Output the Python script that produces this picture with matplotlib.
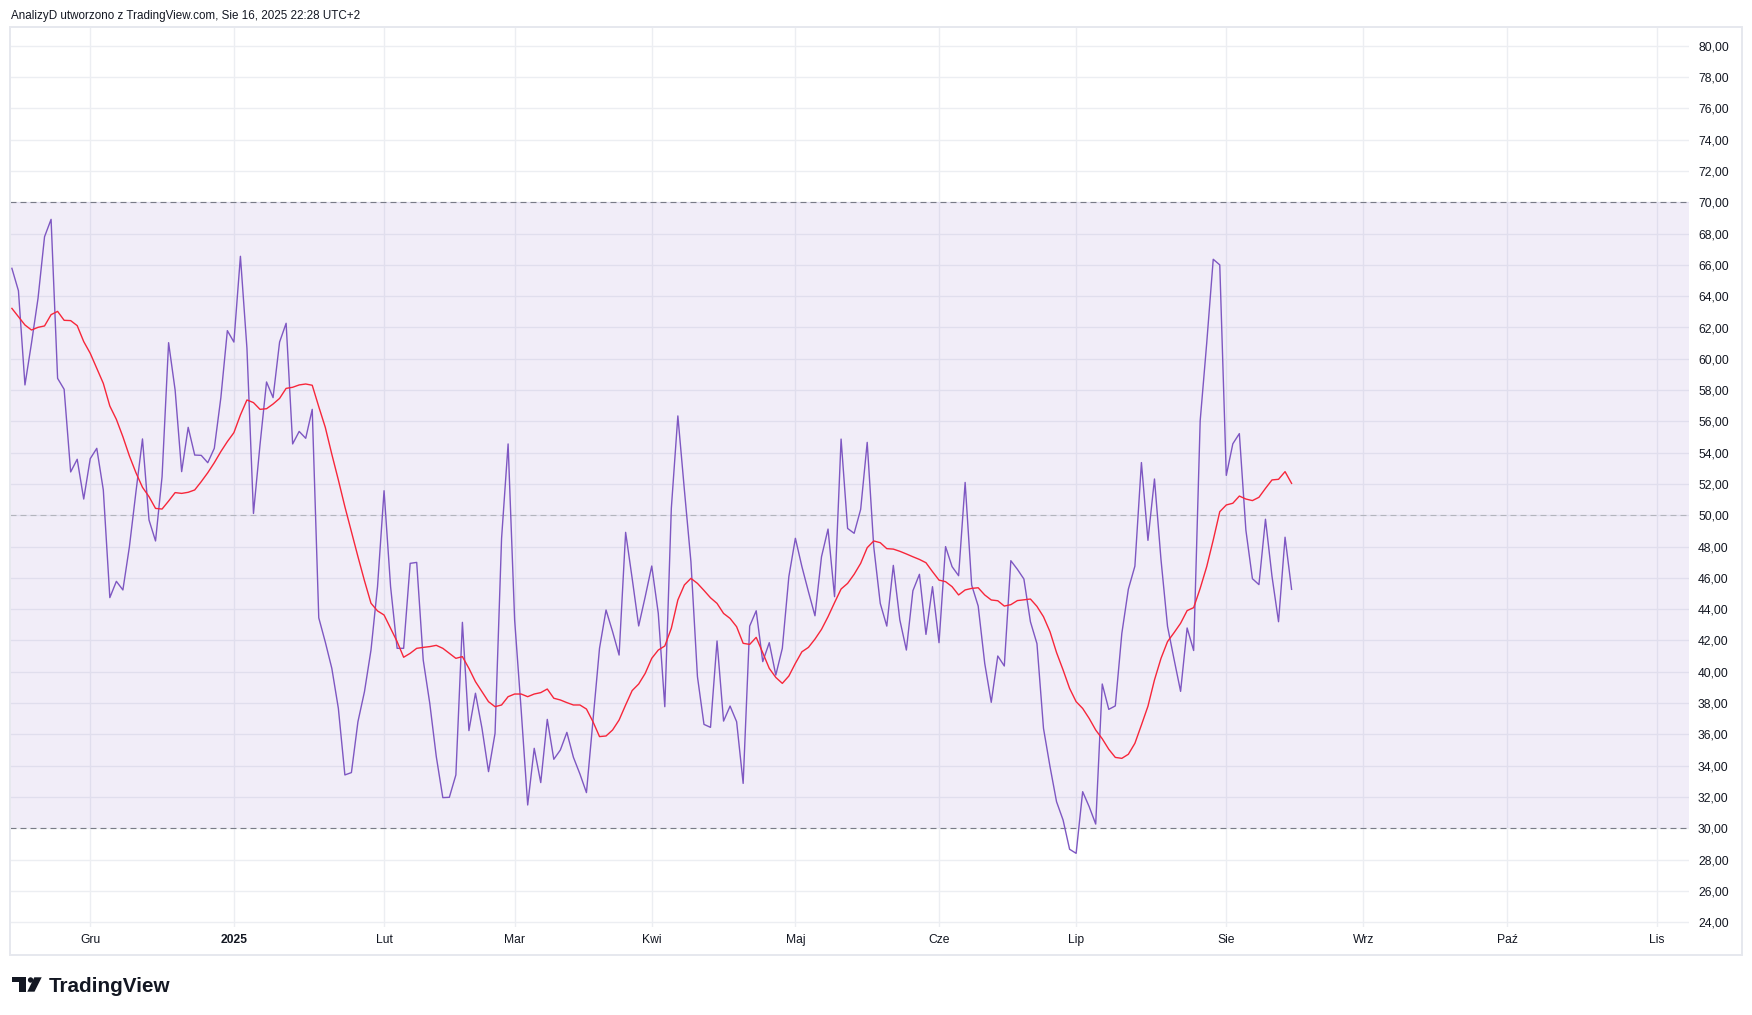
import matplotlib
matplotlib.use('Agg')
import matplotlib.pyplot as plt
import numpy as np
import pandas as pd
from matplotlib.patches import Rectangle, Circle, Polygon

plt.rcParams['lines.scale_dashes'] = False
plt.rcParams['font.family'] = ['Liberation Sans', 'DejaVu Sans']

# ---------------- data ----------------
start_date = '2024-11-14'   # first daily bar (weekdays)

rsi = [65.78, 64.35, 58.33, 61.0, 63.86, 67.80, 68.91, 58.75, 58.05, 52.77,
       53.58, 51.04, 53.62, 54.28, 51.62, 44.74, 45.78, 45.23, 48.0, 51.5,
       54.88, 49.7, 48.36, 52.47, 61.03, 58.0, 52.79, 55.62, 53.85, 53.83,
       53.36, 54.28, 57.5, 61.8, 61.07, 66.55, 60.67, 50.12, 54.5, 58.52,
       57.52, 61.07, 62.27, 54.56, 55.36, 54.92, 56.77, 43.45, 41.9, 40.22,
       37.67, 33.41, 33.56, 36.81, 38.73, 41.39, 45.44, 51.57, 45.44, 41.5,
       41.5, 46.93, 46.99, 40.75, 37.99, 34.58, 31.96, 31.98, 33.41, 43.16,
       36.24, 38.63, 36.39, 33.62, 36.07, 48.53, 54.56, 43.31, 37.56, 31.49,
       35.11, 32.92, 36.96, 34.41, 35.0, 36.13, 34.54, 33.47, 32.28, 36.9,
       41.5, 43.95, 42.57, 41.07, 48.91, 45.97, 42.93, 44.80, 46.76, 43.74,
       37.77, 50.45, 56.35, 51.62, 47.04, 39.69, 36.64, 36.45, 41.97, 36.85,
       37.81, 36.81, 32.87, 42.92, 43.90, 40.65, 41.86, 39.79, 41.50, 46.08,
       48.53, 46.72, 45.12, 43.58, 47.35, 49.12, 44.80, 54.87, 49.16, 48.85,
       50.38, 54.66, 48.0, 44.37, 42.92, 46.80, 43.31, 41.39, 45.18, 46.23,
       42.39, 45.44, 41.86, 48.0, 46.72, 46.14, 52.10, 45.54, 44.20, 40.54,
       38.05, 41.01, 40.37, 47.10, 46.55, 45.93, 43.2, 41.8, 36.39, 33.94,
       31.70, 30.53, 28.66, 28.4, 32.34, 31.38, 30.27, 39.22, 37.60, 37.82,
       42.45, 45.28, 46.75, 53.37, 48.4, 52.32, 47.16, 42.9, 40.8, 38.75,
       42.8, 41.36, 56.04, 61.0, 66.36, 66.0, 52.55, 54.57, 55.22, 49.05,
       45.95, 45.57, 49.75, 46.1, 43.2, 48.6, 45.27]

rsi_ma = [63.22, 62.69, 62.16, 61.84, 62.01, 62.10, 62.82, 63.03, 62.46, 62.44,
          62.12, 61.10, 60.35, 59.39, 58.43, 56.98, 56.13, 55.02, 53.79, 52.72,
          51.79, 51.19, 50.44, 50.40, 50.91, 51.45, 51.40, 51.47, 51.62, 52.15,
          52.72, 53.36, 54.07, 54.71, 55.28, 56.41, 57.37, 57.20, 56.77, 56.81,
          57.11, 57.47, 58.11, 58.18, 58.33, 58.39, 58.31, 56.94, 55.62, 53.9,
          52.26, 50.55, 48.96, 47.36, 45.82, 44.38, 43.89, 43.63, 42.78, 41.93,
          40.93, 41.18, 41.5, 41.56, 41.61, 41.69, 41.5, 41.18, 40.86, 40.97,
          40.22, 39.37, 38.73, 38.09, 37.77, 37.88, 38.41, 38.58, 38.58, 38.41,
          38.58, 38.67, 38.90, 38.31, 38.2, 38.03, 37.88, 37.88, 37.62, 36.81,
          35.86, 35.9, 36.28, 36.92, 37.88, 38.80, 39.22, 39.9, 40.86, 41.39,
          41.65, 42.78, 44.59, 45.55, 45.97, 45.65, 45.2, 44.73, 44.37, 43.73,
          43.41, 42.88, 41.82, 41.75, 42.20, 41.22, 40.22, 39.64, 39.26, 39.73,
          40.54, 41.28, 41.56, 42.09, 42.71, 43.52, 44.42, 45.29, 45.65, 46.23,
          46.93, 47.93, 48.36, 48.25, 47.87, 47.84, 47.70, 47.53, 47.35, 47.18,
          46.97, 46.40, 45.86, 45.76, 45.44, 44.91, 45.23, 45.33, 45.37, 44.91,
          44.59, 44.54, 44.20, 44.29, 44.55, 44.60, 44.65, 44.18, 43.52, 42.56,
          41.23, 40.12, 38.94, 38.09, 37.66, 37.02, 36.28, 35.72, 35.05, 34.53,
          34.47, 34.73, 35.43, 36.6, 37.8, 39.48, 40.86, 41.93, 42.50, 43.10,
          43.91, 44.10, 45.33, 46.72, 48.42, 50.23, 50.66, 50.77, 51.23, 51.04,
          50.94, 51.15, 51.72, 52.26, 52.30, 52.79, 52.04]

month_starts = ['2024-12-01', '2025-01-01', '2025-02-01', '2025-03-01',
                '2025-04-01', '2025-05-01', '2025-06-01', '2025-07-01',
                '2025-08-01', '2025-09-01', '2025-10-01', '2025-11-01']
month_labels = ['Gru', '2025', 'Lut', 'Mar', 'Kwi', 'Maj', 'Cze', 'Lip',
                'Sie', 'Wrz', 'Paź', 'Lis']
y_ticks = list(range(24, 81, 2))
band_upper, band_middle, band_lower = 70, 50, 30
header = 'AnalizyD utworzono z TradingView.com, Sie 16, 2025 22:28 UTC+2'

# ---------------- layout ----------------
W, H, DPI = 1752, 1015, 100
calendar = pd.bdate_range(start_date, '2025-11-30')
x = np.arange(len(rsi))
tick_idx = [int(calendar.searchsorted(pd.Timestamp(m))) for m in month_starts]

fig = plt.figure(figsize=(W / DPI, H / DPI), dpi=DPI)
fig.patch.set_facecolor('white')


def px_box(l, t, r, b):
    return [l / W, 1 - b / H, (r - l) / W, (b - t) / H]


PL, PT, PR, PB = 10, 27.3, 1689, 927
ax = fig.add_axes(px_box(PL, PT, PR, PB))
X0, DX = 11.9, 6.529
Y70, PPU = 202.3, 15.65
ax.set_xlim((PL - X0) / DX, (PR - X0) / DX)
ax.set_ylim(70 - (PB - Y70) / PPU, 70 + (Y70 - PT) / PPU)
ax.set_facecolor('white')
for s in ax.spines.values():
    s.set_visible(False)

# grid
ax.set_yticks(y_ticks)
ax.set_yticklabels([f'{v:.2f}'.replace('.', ',') for v in y_ticks])
ax.set_xticks(tick_idx)
ax.set_xticklabels(month_labels)
ax.grid(True, color='#eceef2', linewidth=1.0, zorder=0)
ax.set_axisbelow(True)
ax.yaxis.tick_right()
ax.tick_params(axis='y', length=0, pad=6.5, labelsize=8.7, labelcolor='#131722')
ax.tick_params(axis='x', length=0, pad=5.0, labelsize=8.7, labelcolor='#131722')
for lbl in ax.get_xticklabels():
    if lbl.get_text() == '2025':
        lbl.set_fontweight('bold')

# band
ax.axhspan(band_lower, band_upper, color='#7e57c2', alpha=0.1, lw=0, zorder=1)
for lvl, col in ((band_upper, '#787b86'), (band_lower, '#787b86'), (band_middle, '#b3b5bd')):
    ax.axhline(lvl, color=col, lw=0.8, dashes=(4.3, 2.9), zorder=2)

ax.plot(x, rsi, color='#7e57c2', lw=1.0, zorder=3)
ax.plot(x, rsi_ma, color='#f7263a', lw=1.0, zorder=4)

# overlay in pixel coordinates
ov = fig.add_axes([0, 0, 1, 1])
ov.set_xlim(0, W)
ov.set_ylim(H, 0)
ov.axis('off')
ov.patch.set_alpha(0)
ov.add_patch(Rectangle((10, 27.3), 1741.7 - 10, 954.5 - 27.3, fill=False,
                       edgecolor='#e6e8ee', lw=1.4))
ov.text(11, 19, header, fontsize=8.4, color='#131722', va='baseline', ha='left')

# TradingView logo
ov.add_patch(Rectangle((12, 977.3), 14, 5, color='#131722', lw=0))
ov.add_patch(Rectangle((19.3, 977.3), 6.7, 14.4, color='#131722', lw=0))
ov.add_patch(Circle((30.6, 980.0), 2.7, color='#131722', lw=0))
ov.add_patch(Polygon([[34.3, 977.3], [41.7, 977.3], [34.5, 991.7], [27.3, 991.7]],
                     closed=True, color='#131722', lw=0))
ov.text(49, 991.7, 'TradingView', fontsize=14.9, fontweight='bold',
        color='#131722', va='baseline', ha='left')

fig.savefig('out.png', dpi=DPI, facecolor='white')
